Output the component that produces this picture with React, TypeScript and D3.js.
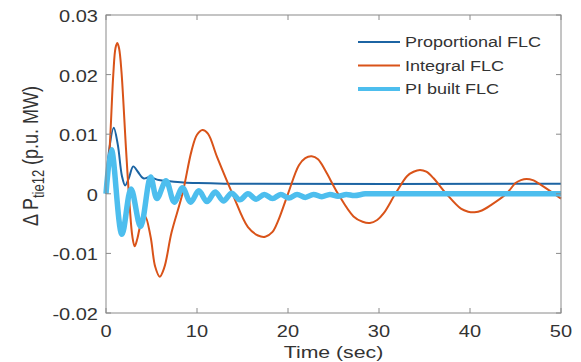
import React from "react";
import * as d3 from "d3";

const W = 581;
const H = 362;

const xTicks = [0, 10, 20, 30, 40, 50];
const yTicks = [-0.02, -0.01, 0, 0.01, 0.02, 0.03];
const yTickLabels = ["-0.02", "-0.01", "0", "0.01", "0.02", "0.03"];

const seriesNames = ["Proportional FLC", "Integral FLC", "PI built FLC"];

// [time, value]
const proportional: [number, number][] = [
  [0, 0], [0.3, 0.0068], [0.85, 0.0111], [1.3, 0.0082], [1.75, 0.003], [2.1, 0.0014],
  [2.5, 0.0026], [3.0, 0.0046], [3.5, 0.0037], [4.1, 0.0026], [4.8, 0.0028],
  [5.8, 0.0023], [7.0, 0.0021], [8.5, 0.0019], [10, 0.0018], [13, 0.0017], [50, 0.0017],
];

const integral: [number, number][] = [
  [0, 0], [0.2, 0.003], [0.45, 0.009], [0.8, 0.02], [1.05, 0.0245], [1.25, 0.0253],
  [1.45, 0.0243], [1.7, 0.0205], [2.2, 0.0075], [2.6, -0.002], [2.9, -0.0072],
  [3.15, -0.0088], [3.45, -0.0075], [3.8, -0.0052], [4.3, -0.0038], [4.9, -0.0072],
  [5.4, -0.0122], [5.9, -0.0139], [6.4, -0.0124], [7.2, -0.0065], [8.4, 0],
  [9.4, 0.0072], [10.0, 0.0099], [10.6, 0.0107], [11.2, 0.0101], [12.2, 0.0062],
  [13.9, 0], [15.6, -0.0056], [16.7, -0.007], [17.5, -0.0072], [18.3, -0.0064],
  [18.9, -0.0046], [20.0, 0], [21.2, 0.0048], [21.9, 0.006], [22.6, 0.0063],
  [23.3, 0.0058], [24.1, 0.0039], [25.5, 0], [27.2, -0.0038], [28.2, -0.0047],
  [29.0, -0.0049], [29.8, -0.0044], [30.5, -0.0033], [31.8, 0], [33.1, 0.003],
  [33.8, 0.0037], [34.5, 0.004], [35.2, 0.0037], [36.0, 0.0026], [37.4, 0],
  [39.0, -0.0025], [39.8, -0.003], [40.5, -0.0031], [41.3, -0.0028], [42.3, -0.0019],
  [44.0, 0], [45.0, 0.0018], [45.6, 0.0023], [46.2, 0.0025], [46.9, 0.0023],
  [48.0, 0.0013], [50, -0.0008],
];

const piBuilt: [number, number][] = [
  [0, 0], [0.6, 0.0074], [1.75, -0.0068], [2.75, 0.0008], [3.8, -0.0055], [4.9, 0.0028],
  [5.6, -0.0008], [6.6, 0.0022], [7.5, -0.0014], [8.4, 0.0010], [9.3, -0.0014],
  [10.2, 0.0005], [11.1, -0.0013], [12.0, 0.0003], [12.9, -0.0012], [13.8, 0.0001],
  [14.7, -0.001], [15.6, 0.0], [16.5, -0.0009], [17.4, -0.0001], [18.3, -0.0008],
  [19.2, -0.0001], [20.1, -0.0007], [21.0, -0.0001], [21.9, -0.0006], [22.8, -0.0001],
  [23.7, -0.0005], [24.6, -0.0001], [25.5, -0.0004], [26.4, -0.0001], [27.3, -0.0003],
  [28.5, 0.0], [30, 0], [50, 0],
];

const colors = ["#1c64a3", "#d95319", "#4dbeee"];
const widths = [2, 2, 5.5];

const M = { left: 106, right: 561, top: 15, bottom: 313 };
const SX = 1.25;
const FONT = "'Liberation Sans', Arial, sans-serif";

function T(props: { x: number; y: number; anchor?: string; fs: number; sx?: number; children: React.ReactNode }) {
  const { x, y, anchor = "start", fs, sx = SX, children } = props;
  return (
    <text
      transform={`translate(${x},${y}) scale(${sx},1)`}
      textAnchor={anchor}
      fontSize={fs}
      fontFamily={FONT}
      fill="#333"
    >
      {children}
    </text>
  );
}

export default function App() {
  const x = d3.scaleLinear().domain([0, 50]).range([M.left, M.right]);
  const y = d3.scaleLinear().domain([-0.02, 0.03]).range([M.bottom, M.top]);
  const line = d3
    .line<[number, number]>()
    .x((d) => x(d[0]))
    .y((d) => y(d[1]))
    .curve(d3.curveCatmullRom.alpha(0.5));

  const data = [proportional, integral, piBuilt];
  const axisColor = "#8a8a8a";
  const tl = 5;

  return (
    <svg width={W} height={H} style={{ position: "fixed", left: 0, top: 0, background: "#fff" }}>
      <rect x={0} y={0} width={W} height={H} fill="#fff" />
      {data.map((d, i) => (
        <path key={i} d={line(d) || ""} fill="none" stroke={colors[i]} strokeWidth={widths[i]} strokeLinejoin="round" />
      ))}
      <rect x={M.left} y={M.top} width={M.right - M.left} height={M.bottom - M.top} fill="none" stroke={axisColor} strokeWidth={1} />
      {xTicks.map((t) => (
        <g key={"x" + t}>
          <line x1={x(t)} x2={x(t)} y1={M.bottom} y2={M.bottom - tl} stroke={axisColor} />
          <line x1={x(t)} x2={x(t)} y1={M.top} y2={M.top + tl} stroke={axisColor} />
          <T x={x(t)} y={337} anchor="middle" fs={16}>{String(t)}</T>
        </g>
      ))}
      {yTicks.map((t, i) => (
        <g key={"y" + t}>
          <line x1={M.left} x2={M.left + tl} y1={y(t)} y2={y(t)} stroke={axisColor} />
          <line x1={M.right} x2={M.right - tl} y1={y(t)} y2={y(t)} stroke={axisColor} />
          <T x={98} y={y(t) + 7} anchor="end" fs={16}>{yTickLabels[i]}</T>
        </g>
      ))}
      <T x={(M.left + M.right) / 2} y={358} anchor="middle" fs={17}>Time (sec)</T>
      <text
        transform={`translate(38,156) scale(${SX},1) rotate(-90)`}
        textAnchor="middle"
        fontSize={18}
        fontFamily={FONT}
        fill="#333"
      >
        Δ P<tspan fontSize={13} dy={5}>tie12</tspan><tspan dy={-5}> (p.u. MW)</tspan>
      </text>
      {seriesNames.map((n, i) => (
        <g key={n}>
          <line x1={358} x2={400} y1={42 + i * 23.5} y2={42 + i * 23.5} stroke={colors[i]} strokeWidth={i === 2 ? 4 : 2} />
          <T x={405} y={42 + i * 23.5 + 5} fs={15} sx={1.2}>{n}</T>
        </g>
      ))}
    </svg>
  );
}
